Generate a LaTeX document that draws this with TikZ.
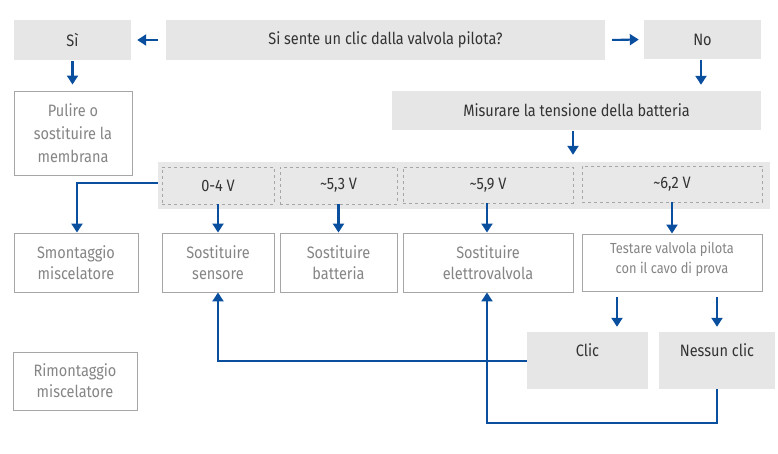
\documentclass[tikz,border=0pt]{standalone}
\usepackage{fontspec}
\setmainfont{Fira Sans}[FakeStretch=0.88]
\usetikzlibrary{arrows.meta}
\definecolor{boxgray}{HTML}{E6E6E6}
\definecolor{bandgray}{HTML}{E8E8E8}
\definecolor{lineblue}{HTML}{0A4F9E}
\definecolor{bordergray}{HTML}{A6A6A6}
\definecolor{darktext}{HTML}{333333}
\definecolor{lighttext}{HTML}{858585}
\tikzset{
  graybox/.style={fill=boxgray, draw=none, inner sep=0pt, text=darktext, align=center},
  whitebox/.style={fill=white, draw=bordergray, line width=0.9pt, inner sep=0pt, text=lighttext, align=center},
  dashbox/.style={draw=bordergray, dashed, line width=0.7pt, inner sep=0pt, text=darktext},
  flow/.style={draw=lineblue, line width=2.1pt, -{Triangle[length=9pt,width=11pt]}},
}
\begin{document}
\begin{tikzpicture}[x=1pt,y=-1pt, font=\fontsize{16.5}{21}\selectfont]
\useasboundingbox (0,0) rectangle (778,453);
% top row
\node[graybox, minimum width=117pt, minimum height=40pt] (si) at (72.5,40) {Sì};
\node[graybox, minimum width=439pt, minimum height=40pt] (q) at (385.5,40) {Si sente un clic dalla valvola pilota?};
\node[graybox, minimum width=117pt, minimum height=39pt] (no) at (702.5,39.5) {No};
\node[whitebox, minimum width=118pt, minimum height=84pt, font=\fontsize{16.5}{23}\selectfont] (pulire) at (73,133) {Pulire o\\sostituire la\\membrana};
\node[graybox, minimum width=369pt, minimum height=39pt] (mis) at (576.5,110.5) {Misurare la tensione della batteria};
% band
\node[fill=bandgray, inner sep=0pt, minimum width=612pt, minimum height=47pt] (band) at (464,185.5) {};
\node[dashbox, minimum width=112pt, minimum height=37pt] (d1) at (218,185.5) {0-4 V};
\node[dashbox, minimum width=117pt, minimum height=37pt] (d2) at (338.5,185.5) {\textasciitilde5,3 V};
\node[dashbox, minimum width=170pt, minimum height=36pt] (d3) at (488,185) {\textasciitilde5,9 V};
\node[dashbox, minimum width=180pt, minimum height=36pt] (d4) at (672,184) {\textasciitilde6,2 V};
% lower row
\node[whitebox, minimum width=124pt, minimum height=59pt] (smont) at (76,262.5) {Smontaggio\\miscelatore};
\node[whitebox, minimum width=112pt, minimum height=59pt] (sens) at (218,262.5) {Sostituire\\sensore};
\node[whitebox, minimum width=117pt, minimum height=59pt] (batt) at (338.5,262.5) {Sostituire\\batteria};
\node[whitebox, minimum width=170pt, minimum height=59pt] (elet) at (488,262.5) {Sostituire\\elettrovalvola};
\node[whitebox, minimum width=180pt, minimum height=57pt] (test) at (672,262.5) {};
\node[text=lighttext, align=center, inner sep=0pt, font=\fontsize{14.6}{20}\selectfont] (testlab) at (672,259.5) {Testare valvola pilota\\con il cavo di prova};
\node[graybox, minimum width=121pt, minimum height=57pt] (clic) at (587.5,360.5) {};
\node[graybox, minimum width=116pt, minimum height=57pt] (nessun) at (717,360.5) {};
\node[text=darktext, anchor=center] (cliclab) at (clic.center |- 0,350) {Clic};
\node[text=darktext, anchor=center] (nessunlab) at (nessun.center |- 0,350) {Nessun clic};
\node[whitebox, minimum width=124pt, minimum height=58pt] (rimont) at (75,381) {Rimontaggio\\miscelatore};
% connectors
\draw[flow, shorten <=8pt, shorten >=6pt] (q.west) -- (si.east);
\draw[flow, shorten <=7pt, shorten >=5pt] (q.east) -- (no.west);
\draw[flow, shorten <=1pt, shorten >=6pt] (si.south) -- (si.south |- pulire.north);
\draw[flow, shorten <=1pt, shorten >=6pt] ([xshift=-1.5pt]no.south) -- ([xshift=-1.5pt]no.south |- mis.north);
\draw[flow, shorten <=1pt, shorten >=7pt] ([xshift=-3.5pt]mis.south) -- ([xshift=-3.5pt]mis.south |- band.north);
\coordinate (bl) at (band.west |- 0,183);
\draw[flow] (bl) -| ([xshift=1pt]smont.north);
\draw[flow] (d1.south) -- (sens.north);
\draw[flow] (d2.south) -- (batt.north);
\draw[flow] ([xshift=-1pt]d3.south) -- ([xshift=-1pt]elet.north);
\draw[flow] (d4.south) -- (test.north);
\coordinate (t1) at (617,291);
\draw[flow, shorten <=6pt, shorten >=5pt] (t1) -- (t1 |- clic.north);
\draw[flow, shorten <=6pt, shorten >=5pt] (nessun.center |- test.south) -- (nessun.north);
\coordinate (cl) at (clic.west |- 0,361);
\draw[flow] (cl) -| (sens.south);
\coordinate (nb) at (nessun.south |- 0,423);
\draw[flow] (nessun.south) -- (nb) -| ([xshift=-1pt]elet.south);
\end{tikzpicture}
\end{document}
